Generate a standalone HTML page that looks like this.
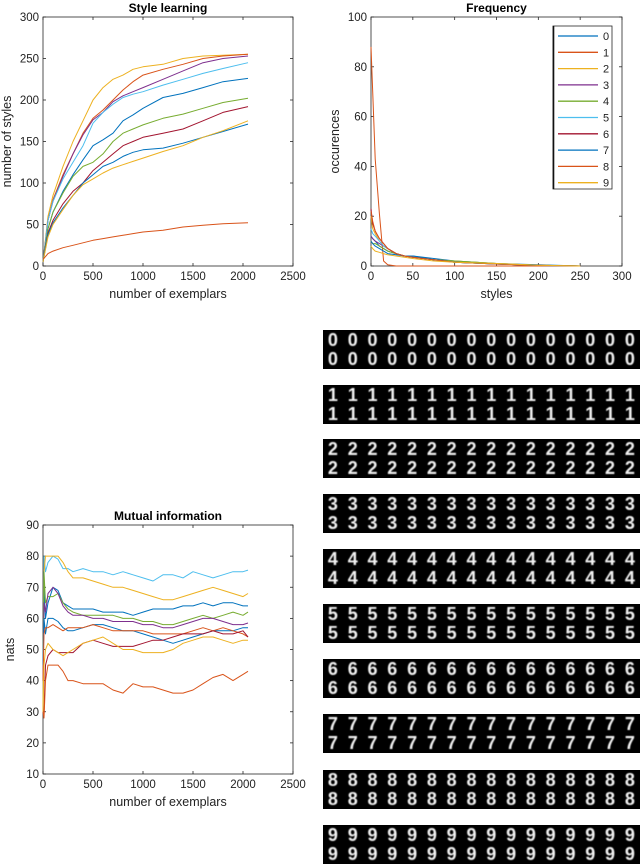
<!DOCTYPE html>
<html><head><meta charset="utf-8"><style>
body{margin:0;background:#fff;width:640px;height:865px;overflow:hidden;font-family:"Liberation Sans",sans-serif}
svg{position:absolute;left:0;top:0}
.dg{position:absolute;left:323px;width:317px;height:39px;background:#000;overflow:hidden}
.dr{display:flex;height:19px;color:#f2f2f2;font:bold 18px "Liberation Sans",sans-serif;line-height:19px;filter:blur(0.5px)}
.dr span{width:19.8px;text-align:center}
</style></head><body>
<svg id="chart" width="640" height="865"></svg>
<div id="digits"></div>
<script>
const colors=["#0072BD","#D95319","#EDB120","#7E2F8E","#77AC30","#4DBEEE","#A2142F","#0072BD","#D95319","#EDB120"];
// Style learning
const slX=[0,50,100,200,300,400,500,600,700,800,900,1000,1200,1400,1600,1800,2050];
const slS0=[5,60,85,120,150,175,200,215,225,230,237,240,243,250,253,254,255];
const slS1=[5,55,80,110,135,160,178,188,200,212,222,230,237,243,250,253,255];
const slS2=[5,55,78,108,135,158,176,185,198,205,210,215,225,235,245,250,253];
const slS3=[5,55,78,105,125,145,172,185,195,203,207,210,218,225,232,238,245];
const slS4=[5,45,65,90,110,128,145,152,160,175,182,190,203,208,215,222,226];
const slS5=[5,45,65,88,108,120,125,135,150,160,165,170,178,183,190,197,202];
const slS6=[5,40,55,75,90,100,115,125,135,145,150,155,160,165,175,185,192];
const slS7=[5,38,52,70,85,100,110,120,125,132,137,140,142,148,155,162,171];
const slS8=[5,35,50,68,85,98,105,112,118,122,126,130,138,145,155,163,175];
const slS9=[8,15,18,22,25,28,31,33,35,37,39,41,43,47,49,51,52];
const slSeries=[slS0,slS1,slS2,slS3,slS4,slS5,slS6,slS7,slS8,slS9];
const slColors=["#EDB120","#D95319","#7E2F8E","#4DBEEE","#0072BD","#77AC30","#A2142F","#0072BD","#EDB120","#D95319"];
// Frequency
const frX=[0,2,5,10,15,20,30,40,50,75,100,150,200,250];
const fr0=[12,11,10,8,7,6,5,4,4,3,2,1,0.5,0];
const fr1=[88,70,43,21,2,0.5,0,0,0,0,0,0,0,0];
const fr2=[20,15,13,10,8,7,5,4,3.5,2.5,2,1,0.3,0];
const fr3=[12,11,10,9,8,7,5,4,3.5,2.5,1.5,0.8,0.3,0];
const fr4=[10,9,9,8,7,6,5,4,3.5,2.5,2,1,0.3,0];
const fr5=[15,13,12,10,8,7,5,4,3.5,2.5,1.5,0.8,0.2,0];
const fr6=[23,17,14,11,9,7,5,4,3.5,2.5,1.5,0.8,0.2,0];
const fr7=[10,9,8,7,6,5,4.5,4,4,2.5,1.5,0.8,0.2,0];
const fr8=[22,18,14,11,9,7,5,4,3.5,2.5,1.5,0.8,0.2,0];
const fr9=[8,7,6,5.5,5,4.5,4,3.5,3,2,1.5,1,0.3,0];
const frSeries=[fr0,fr1,fr2,fr3,fr4,fr5,fr6,fr7,fr8,fr9];
const legendLabels=["0","1","2","3","4","5","6","7","8","9"];
// Mutual information
const miX=[0,10,25,50,100,150,200,250,300,400,500,600,700,800,900,1000,1100,1200,1300,1400,1500,1600,1700,1800,1900,2000,2050];
const mi0=[30,80,75,78,80,79,76,76,75,76,75,75,74,75,74,73,72,74,74,73,75,74,73,74,75,75,75.5];
const mi1=[30,75,80,80,80,80,78,75,73,73,72,71,70,70,69,68,67,66,66,67,68,69,70,69,68,67,68];
const mi2=[40,70,60,65,70,69,65,64,63,63,63,62,62,62,61,62,63,63,63,64,64,65,64,65,65,64,64];
const mi3=[40,75,65,67,67,68,65,63,62,61,61,61,61,60,60,59,59,58,58,59,60,61,60,61,62,61,62];
const mi4=[40,65,62,68,70,68,64,62,61,61,60,60,59,59,59,58,58,57,57,58,59,60,60,59,58,58,58.5];
const mi5=[45,60,55,60,60,59,57,56,56,57,58,58,57,56,56,55,54,53,52,53,54,55,56,56,56,57,57];
const mi6=[40,55,57,57,58,57,56,57,57,57,58,57,56,56,56,56,55,55,55,55,56,57,56,57,56,55,54];
const mi7=[30,30,45,48,50,49,49,49,49,52,53,52,51,51,51,52,53,53,54,55,55,55,56,55,55,56,54];
const mi8=[30,45,50,52,50,49,48,49,50,52,53,54,52,50,50,49,49,49,50,52,53,54,54,53,52,53,53];
const mi9=[30,28,40,45,45,45,43,40,40,39,39,39,37,36,39,38,38,37,36,36,37,39,41,42,40,42,43];
const miSeries=[mi0,mi1,mi2,mi3,mi4,mi5,mi6,mi7,mi8,mi9];
const miColors=["#4DBEEE","#EDB120","#0072BD","#77AC30","#7E2F8E","#0072BD","#D95319","#A2142F","#EDB120","#D95319"];
const xTicks2500=["0","500","1000","1500","2000","2500"];
const yTicksSL=["0","50","100","150","200","250","300"];
const xTicksFr=["0","50","100","150","200","250","300"];
const yTicksFr=["0","20","40","60","80","100"];
const yTicksMI=["10","20","30","40","50","60","70","80","90"];

const NS="http://www.w3.org/2000/svg";
const svg=document.getElementById('chart');
function mk(t,a,p){const e=document.createElementNS(NS,t);for(const k in a)e.setAttribute(k,a[k]);(p||svg).appendChild(e);return e;}
function axes(name,x0,x1,y0,y1,xmin,xmax,ymin,ymax,xt,yt,title,xl,yl,ylx){
  const g=mk('g',{});
  
  
  const sx=v=>x0+(v-xmin)/(xmax-xmin)*(x1-x0);
  const sy=v=>y1-(v-ymin)/(ymax-ymin)*(y1-y0);
  const box=mk('rect',{x:x0,y:y0,width:x1-x0,height:y1-y0,fill:'none',stroke:'#262626','stroke-width':0.8},g);
  
  
  xt.forEach(s=>{const v=+s,X=sx(v);
    mk('line',{x1:X,x2:X,y1:y1,y2:y1-3,stroke:'#262626','stroke-width':0.8},g);
    mk('line',{x1:X,x2:X,y1:y0,y2:y0+3,stroke:'#262626','stroke-width':0.8},g);
    const t=mk('text',{x:X,y:y1+14,'text-anchor':'middle','font-size':11.5,fill:'#222'},g);t.textContent=s;
    
    });
  yt.forEach(s=>{const v=+s,Y=sy(v);
    mk('line',{x1:x0,x2:x0+3,y1:Y,y2:Y,stroke:'#262626','stroke-width':0.8},g);
    mk('line',{x1:x1,x2:x1-3,y1:Y,y2:Y,stroke:'#262626','stroke-width':0.8},g);
    const t=mk('text',{x:x0-4,y:Y+4,'text-anchor':'end','font-size':11.5,fill:'#222'},g);t.textContent=s;
    
    });
  const ti=mk('text',{x:(x0+x1)/2,y:y0-5,'text-anchor':'middle','font-size':12,'font-weight':'bold',fill:'#000'},g);ti.textContent=title;
  
  
  const xlab=mk('text',{x:(x0+x1)/2,y:y1+32,'text-anchor':'middle','font-size':12.5,fill:'#222'},g);xlab.textContent=xl;
  
  
  const cy=(y0+y1)/2;
  const ylab=mk('text',{x:ylx,y:cy,'text-anchor':'middle','font-size':12.5,fill:'#222',transform:`rotate(-90 ${ylx} ${cy})`},g);ylab.textContent=yl;
  
  
  return {g,sx,sy};
}
function lines(ax,xs,series,cols,w,prefix){
  series.forEach((s,i)=>{
    const pts=s.map((v,j)=>ax.sx(xs[j]).toFixed(1)+','+ax.sy(v).toFixed(1)).join(' ');
    const p=mk('polyline',{points:pts,fill:'none',stroke:cols[i],'stroke-width':w,'stroke-linejoin':'round'},ax.g);
    
    
  });
}
const a1=axes('style-learning-chart',43,293,17,266,0,2500,0,300,xTicks2500,yTicksSL,'Style learning','number of exemplars','number of styles',11);
lines(a1,slX,slSeries,slColors,1,'style-learning');
const a2=axes('frequency-chart',371,622,17,266,0,300,0,100,xTicksFr,yTicksFr,'Frequency','styles','occurences',339);
lines(a2,frX,frSeries,colors,1,'frequency');
// legend
const lg=mk('g',{},a2.g);


mk('rect',{x:553,y:26,width:59,height:163,fill:'#fff',stroke:'#262626','stroke-width':0.8},lg);
mk('line',{x1:553.5,x2:553.5,y1:26,y2:189,stroke:'#111','stroke-width':1.6},lg);
legendLabels.forEach((l,i)=>{const Y=36+i*16.3;
  const e=mk('g',{},lg);
  
  
  mk('line',{x1:558,x2:598,y1:Y,y2:Y,stroke:colors[i],'stroke-width':1.3},e);
  const t=mk('text',{x:603,y:Y+4,'font-size':11,fill:'#222'},e);t.textContent=l;});
const a3=axes('mutual-information-chart',43,293,525,774,0,2500,10,90,xTicks2500,yTicksMI,'Mutual information','number of exemplars','nats',14);
lines(a3,miX,miSeries,miColors,1,'mutual-information');

// digit panels
const tops=[330,385,439,494,549,604,659,714,770,825];
const dc=document.getElementById('digits');
tops.forEach((t,d)=>{
  const b=document.createElement('div');b.className='dg';b.style.top=t+'px';
  
  
  for(let r=0;r<2;r++){const row=document.createElement('div');row.className='dr';
    row.style.marginTop=r?'0':'1px';
    for(let k=0;k<16;k++){const s=document.createElement('span');s.textContent=String(d);row.appendChild(s);}
    b.appendChild(row);}
  dc.appendChild(b);
});
</script>
</body></html>
